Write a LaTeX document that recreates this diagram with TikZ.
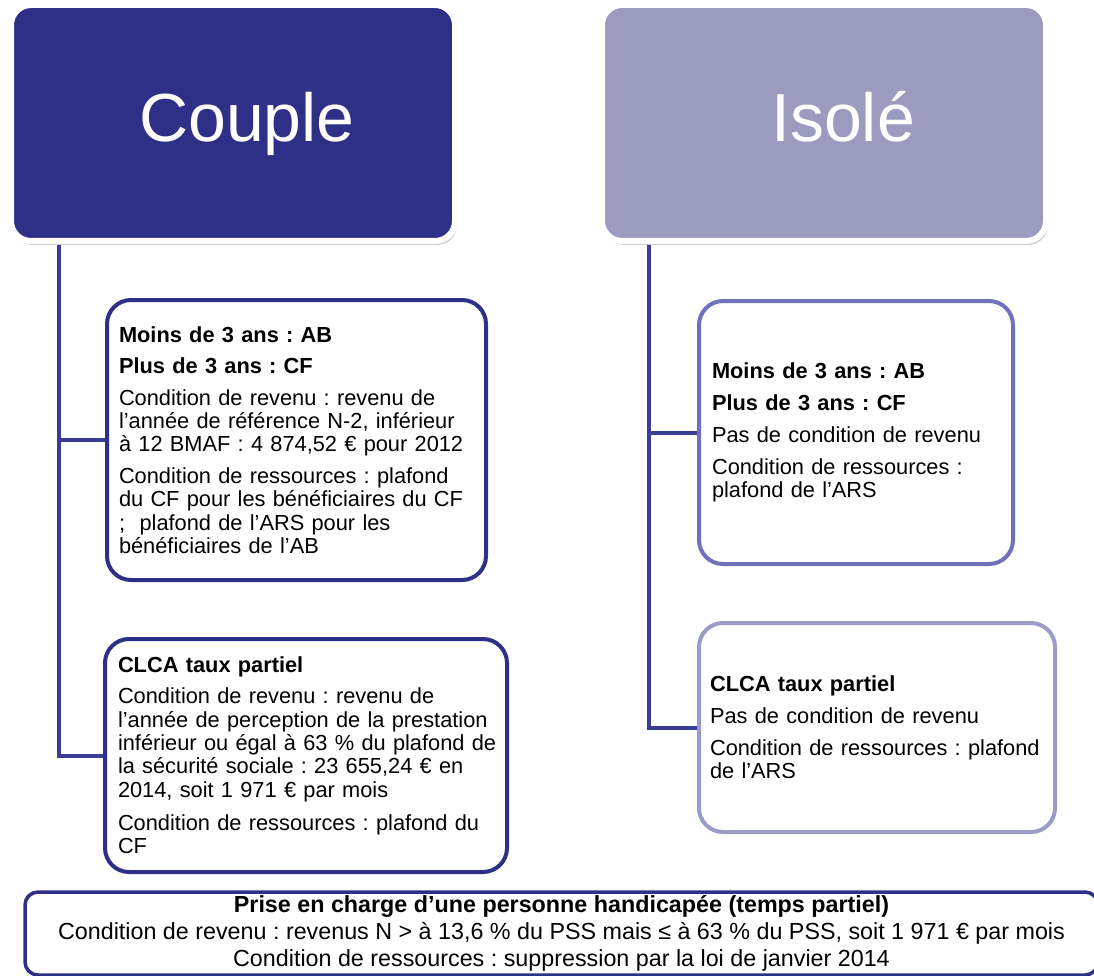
\documentclass[tikz,border=0pt]{standalone}
\usepackage{fontspec}
\setmainfont{Liberation Sans}
\usetikzlibrary{shadows}

\definecolor{navy}{RGB}{46,48,136}
\definecolor{linkblue}{RGB}{58,60,150}
\definecolor{lavender}{RGB}{154,155,191}
\definecolor{midpurple}{RGB}{112,113,184}
\definecolor{palepurple}{RGB}{155,156,198}

% one unbreakable line of a text box
\newcommand\tline[1]{\mbox{#1}}

\begin{document}
\frenchspacing
\begin{tikzpicture}[x=1pt,y=-1pt,
  head/.style={rounded corners=20pt, draw=white, line width=6pt,
    minimum width=444pt, minimum height=236pt, inner sep=0pt,
    text height=52pt, text depth=14pt,
    text=white, font=\fontsize{68}{80}\selectfont,
    drop shadow={shadow xshift=1pt, shadow yshift=-2pt, fill=black, opacity=0.2},
    drop shadow={shadow xshift=2pt, shadow yshift=-4pt, fill=black, opacity=0.2}},
  infobox/.style={rounded corners=24pt, line width=4pt, fill=white,
    align=left, inner ysep=0pt, font=\fontsize{21.8}{23.3}\selectfont},
  link/.style={draw=linkblue, line width=4pt},
]
\fill[white] (0,0) rectangle (1094,976);
\useasboundingbox (0,0) rectangle (1094,976);

% column headings
\node[head, fill=navy]     (couple) at (233,123) {\hspace*{28pt}Couple};
\node[head, fill=lavender] (isole)  at (824,123) {\hspace*{38pt}Isolé};

% Couple column
\node[infobox, draw=navy, minimum width=379pt, minimum height=280pt,
      text width=355pt, inner xsep=12pt] (cab) at (296.5,440) {%
\tline{\textbf{Moins de 3 ans : AB}}\\[7.7pt]
\tline{\textbf{Plus de 3 ans : CF}}\\[8.7pt]
\tline{Condition de revenu : revenu de}\\
\tline{l’année de référence N-2, inférieur}\\
\tline{à 12 BMAF : 4 874,52 € pour 2012}\\[8.7pt]
\tline{Condition de ressources : plafond}\\
\tline{du CF pour les bénéficiaires du CF}\\
\tline{;\ \ plafond de l’ARS pour les}\\
\tline{bénéficiaires de l’AB}};

\node[infobox, draw=navy, minimum width=402pt, minimum height=233pt,
      text width=376pt, inner xsep=13pt] (cclca) at (306,755.5) {%
\tline{\textbf{CLCA taux partiel}}\\[7.7pt]
\tline{Condition de revenu : revenu de}\\
\tline{l’année de perception de la prestation}\\
\tline{inférieur ou égal à 63 \% du plafond de}\\
\tline{la sécurité sociale : 23 655,24 € en}\\
\tline{2014, soit 1 971 € par mois}\\[10pt]
\tline{Condition de ressources : plafond du}\\
\tline{CF}};

% Isolé column
\node[infobox, draw=midpurple, minimum width=314pt, minimum height=263pt,
      text width=288pt, inner xsep=13pt] (iab) at (856,432.5) {%
\tline{\textbf{Moins de 3 ans : AB}}\\[8pt]
\tline{\textbf{Plus de 3 ans : CF}}\\[8.7pt]
\tline{Pas de condition de revenu}\\[8.7pt]
\tline{Condition de ressources :}\\
\tline{plafond de l’ARS}};

\node[infobox, draw=palepurple, minimum width=356pt, minimum height=209pt,
      text width=334pt, inner xsep=11pt] (iclca) at (877,727.5) {%
\tline{\textbf{CLCA taux partiel}}\\[8pt]
\tline{Pas de condition de revenu}\\[8.7pt]
\tline{Condition de ressources : plafond}\\
\tline{de l’ARS}};

% connectors
\draw[link] ([xshift=51pt,yshift=-1pt]couple.south west) |- (cab.west);
\draw[link] ([xshift=51pt,yshift=-1pt]couple.south west) |- (cclca.west);
\draw[link] ([xshift=50pt,yshift=-1pt]isole.south west) |- (iab.west);
\draw[link] ([xshift=50pt,yshift=-1pt]isole.south west) |- (iclca.west);

% common case
\node[rounded corners=13pt, draw=navy, line width=3.5pt, fill=white,
      minimum width=1073pt, minimum height=83pt, inner sep=0pt, align=center,
      font=\fontsize{23.3}{27}\selectfont] (handi) at (561.5,933.5) {%
\textbf{Prise en charge d’une personne handicapée (temps partiel)}\\
Condition de revenu : revenus N > à 13,6 \% du PSS mais ≤ à 63 \% du PSS, soit 1 971 € par mois\\
Condition de ressources : suppression par la loi de janvier 2014};
\end{tikzpicture}
\end{document}
